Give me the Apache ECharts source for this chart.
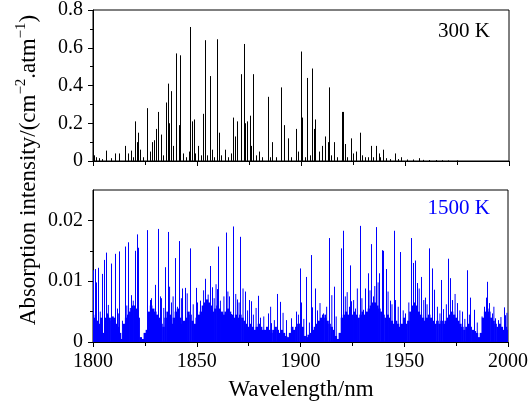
<!DOCTYPE html>
<html><head><meta charset="utf-8">
<script src="https://cdn.jsdelivr.net/npm/echarts@6/dist/echarts.min.js"></script>
<style>html,body{margin:0;padding:0;background:#fff}#c{width:531px;height:405px}</style>
</head><body><div id="c"></div>
<script>
// ---- data ----
const xTicks = [1800, 1850, 1900, 1950, 2000];
const topYTicks = [0, 0.2, 0.4, 0.6, 0.8];
const botYTicks = [0, 0.01, 0.02];
const botYMinor = [0.005, 0.015];
const topLabel = '300 K';
const botLabel = '1500 K';
const xTitle = 'Wavelength/nm';

// 300 K line positions (nm) and intensities
const lines300 = [
 [1800.9,0.03],[1801.7,0.02],[1803,0.015],[1804.6,0.01],[1806.3,0.055],[1808.7,0.015],[1810.9,0.04],
 [1812.6,0.04],[1815.7,0.08],[1817.1,0.04],[1818.6,0.055],[1819.5,0.02],[1820.5,0.21],[1821.3,0.1],
 [1822.1,0.15],[1823,0.06],[1824.3,0.02],[1826.4,0.28],[1827.5,0.05],[1828.6,0.1],[1829.5,0.11],
 [1830.3,0.17],[1831.4,0.26],[1832.7,0.14],[1834,0.03],[1835.1,0.31],[1836.2,0.41],[1836.8,0.2],
 [1837.8,0.37],[1838.6,0.08],[1840.1,0.57],[1841.5,0.19],[1842.1,0.56],[1843.5,0.04],[1845,0.02],
 [1846.2,0.05],[1847.0,0.71],[1847.7,0.21],[1848.7,0.22],[1849.5,0.04],[1850.5,0.08],[1852,0.03],
 [1853.2,0.25],[1854.2,0.64],[1855,0.03],[1856.7,0.45],[1857.5,0.06],[1858.5,0.02],[1860.0,0.645],
 [1860.7,0.15],[1862,0.03],[1863.7,0.06],[1865,0.02],[1866.5,0.04],[1867.6,0.23],[1868.3,0.13],
 [1869.7,0.21],[1871.2,0.46],[1872.9,0.62],[1873.5,0.2],[1874.2,0.21],[1875.6,0.24],[1876.3,0.08],
 [1877.1,0.46],[1878.5,0.03],[1880,0.05],[1881.5,0.02],[1884.5,0.34],[1885.3,0.02],[1886.1,0.1],
 [1888,0.02],[1890.4,0.39],[1892.2,0.19],[1893.9,0.12],[1895.5,0.02],[1897.9,0.17],[1898.8,0.05],
 [1900.0,0.58],[1900.6,0.23],[1902,0.02],[1903.0,0.44],[1904.5,0.03],[1905.4,0.49],[1906.4,0.17],
 [1907.0,0.22],[1909,0.05],[1910.5,0.08],[1911.9,0.13],[1913.4,0.1],[1913.9,0.39],[1914.7,0.03],
 [1916.3,0.1],[1917.5,0.02],[1919.9,0.26],[1920.6,0.26],[1921.2,0.09],[1922.5,0.02],[1924.2,0.12],
 [1925.2,0.04],[1926.5,0.05],[1928.7,0.15],[1929.5,0.03],[1931,0.02],[1932.5,0.02],[1934.1,0.08],
 [1935,0.02],[1936.4,0.08],[1937.5,0.04],[1938,0.02],[1939.6,0.06],[1941,0.015],[1943,0.01],
 [1945.2,0.04],[1947,0.01],[1948.5,0.02],[1951,0.008],[1954,0.008],[1957,0.015],[1959,0.006],
 [1962,0.005],[1965,0.005],[1968,0.004],[1971,0.003],[1975,0.003]
];

// 1500 K strong lines
const lines1500 = [
 [1800.3,0.0118],[1801.0,0.0120],[1801.7,0.0098],[1802.6,0.0122],[1804.6,0.0112],[1805.6,0.0135],[1806.3,0.0147],
 [1807.2,0.0047],[1808.7,0.0129],[1809.6,0.0042],[1810.9,0.0145],[1811.8,0.0055],[1812.6,0.0149],
 [1815.7,0.0157],[1817.1,0.0164],[1818.6,0.0077],[1820.5,0.0150],[1821.3,0.0177],[1822.1,0.0155],
 [1826.4,0.0184],[1827.6,0.0069],[1830.3,0.0094],[1831.4,0.0186],[1832.7,0.0075],[1835.1,0.0123],
 [1836.3,0.0181],[1837.8,0.0065],[1839.9,0.0138],[1841.5,0.0166],[1843.0,0.0088],[1844.4,0.0089],
 [1847.1,0.0154],[1849.7,0.0089],[1850.5,0.0065],[1854.2,0.0104],[1856.7,0.0125],[1857.4,0.009],
 [1860.0,0.0087],[1860.7,0.0157],[1862.3,0.0048],[1864.3,0.0180],[1865.6,0.0075],[1866.8,0.0046],
 [1867.9,0.0190],[1869.7,0.0070],[1871.3,0.0173],[1873.4,0.0083],[1875.6,0.0069],[1876.4,0.0067],
 [1879.7,0.0076],[1880.8,0.004],[1884.5,0.0047],[1886.2,0.0031],[1888.8,0.0079],[1890.2,0.0066],
 [1893.1,0.0036],[1895.8,0.0039],[1897.9,0.005],
 [1900.0,0.0121],[1900.6,0.0065],[1903.0,0.0107],[1905.4,0.0143],[1905.9,0.0057],[1907.1,0.0088],
 [1910.9,0.0047],[1911.9,0.0045],[1913.9,0.0171],[1916.3,0.0091],[1919.9,0.0154],[1920.8,0.0183],
 [1923.5,0.0058],[1924.2,0.0126],[1924.8,0.0067],[1926.7,0.0055],[1928.8,0.0191],[1930.2,0.0053],
 [1931.5,0.0088],[1932.8,0.0113],[1934.1,0.0161],[1935.1,0.0075],[1936.7,0.0189],[1938.1,0.0113],
 [1939.3,0.0151],[1940.1,0.0150],[1941.5,0.0120],[1943.3,0.0068],[1945.2,0.0183],[1946.0,0.0069],
 [1948.4,0.0148],[1950.5,0.0047],[1953.5,0.0171],[1954.5,0.0130],[1955.3,0.0134],[1956.4,0.0097],
 [1958.5,0.0107],[1960.1,0.0073],[1962.2,0.0154],[1963.8,0.0121],[1964.8,0.0086],[1968.1,0.0102],
 [1969.1,0.0054],[1971.2,0.0137],[1972.1,0.0105],[1973.4,0.0069],[1975.6,0.0064],[1978.0,0.005],
 [1980.6,0.0118],[1982.1,0.0073],[1983.7,0.0053],[1988.7,0.0058],[1989.5,0.0073],[1990.2,0.0099],
 [1991.2,0.0064],[1992.5,0.0047],[1994.1,0.0039],[1995.4,0.0036],[1998.1,0.0057],[1998.9,0.0044]
];

// 1500 K medium lines
const mid1500 = [
 [1803.5,0.005],[1807.4,0.0061],[1809.8,0.0042],[1812.2,0.0047],[1814.2,0.0035],[1816.3,0.006],[1818.0,0.0056],
 [1819.4,0.0068],[1828.2,0.0072],[1829.8,0.0047],[1833.0,0.0072],[1834.1,0.0056],[1836.9,0.0091],[1838.6,0.0075],
 [1840.7,0.0058],[1842.6,0.0072],[1845.4,0.008],[1848.3,0.0062],[1851.8,0.0068],[1853.3,0.0085],[1855.5,0.0078],
 [1858.4,0.0072],[1859.3,0.0095],[1861.4,0.0068],[1863.1,0.0075],[1865.0,0.0083],[1868.8,0.0079],[1870.4,0.0065],
 [1872.3,0.0088],[1874.5,0.0052],[1877.3,0.0045],[1878.6,0.0056],[1882.3,0.0042],[1885.6,0.0058],[1887.4,0.0036],
 [1891.6,0.0048],[1899.0,0.0045],[1901.6,0.0038],[1904.3,0.0032],[1908.2,0.0052],[1909.4,0.0064],[1912.6,0.0058],
 [1915.1,0.0077],[1917.2,0.0042],[1921.6,0.0075],[1922.5,0.0082],[1925.6,0.0069],[1927.4,0.0088],[1929.6,0.0072],
 [1933.5,0.0085],[1935.8,0.0092],[1937.4,0.0098],[1942.2,0.0083],[1944.1,0.0062],[1947.1,0.0058],[1949.5,0.0052],
 [1952.2,0.0065],[1957.2,0.0088],[1959.4,0.0069],[1961.0,0.0062],[1966.0,0.0058],[1967.2,0.0047],[1970.3,0.0062],
 [1974.5,0.0079],[1976.8,0.0052],[1979.2,0.0038],[1981.4,0.0045],[1985.2,0.0032],[1987.5,0.0042],[1993.2,0.0058],
 [1996.6,0.0041],[1999.5,0.0048]
];

// 1500 K dense weak-line background, one value per nm from 1800 to 2000
const floorStart = 1800;
const floor1500 = [
 0.0045,0.004,0.0035,0.003,0.004,0.0015,0.004,0.0045,0.004,0.0035,
 0.004,0.003,0.0025,0.0015,0.0005,0.003,0.004,0.0045,0.005,0.006,
 0.006,0.0055,0.004,0.0008,0.0005,0.0015,0.002,0.005,0.006,0.0055,
 0.005,0.0045,0.004,0.003,0.0025,0.004,0.005,0.0045,0.003,0.004,
 0.005,0.0055,0.004,0.003,0.0035,0.004,0.005,0.0045,0.0035,0.003,
 0.004,0.0045,0.005,0.006,0.0065,0.007,0.0065,0.006,0.005,0.0055,
 0.006,0.0055,0.005,0.0045,0.005,0.0055,0.005,0.0045,0.004,0.0045,
 0.004,0.0045,0.004,0.0035,0.003,0.0025,0.003,0.0025,0.002,0.0025,
 0.003,0.0025,0.002,0.002,0.0025,0.002,0.0015,0.002,0.0025,0.002,
 0.0015,0.002,0.0015,0.001,0.0008,0.0015,0.0025,0.002,0.0025,0.003,
 0.003,0.0025,0.001,0.0008,0.0012,0.0015,0.002,0.0025,0.003,0.0035,
 0.004,0.0045,0.004,0.0035,0.003,0.0025,0.002,0.001,0.0005,0.0015,
 0.004,0.0045,0.005,0.0045,0.004,0.0045,0.005,0.0045,0.004,0.0045,
 0.005,0.0045,0.005,0.0055,0.006,0.0065,0.0065,0.006,0.0055,0.005,
 0.0045,0.004,0.0045,0.004,0.0035,0.003,0.0035,0.003,0.0025,0.003,
 0.004,0.003,0.0035,0.005,0.006,0.0065,0.006,0.005,0.0045,0.004,
 0.0035,0.004,0.0045,0.004,0.0035,0.003,0.0035,0.003,0.0035,0.003,
 0.0035,0.004,0.0045,0.005,0.0045,0.004,0.0035,0.003,0.0025,0.002,
 0.0025,0.003,0.0025,0.002,0.0018,0.0015,0.0008,0.0015,0.004,0.005,
 0.0055,0.005,0.004,0.0035,0.003,0.0025,0.003,0.0025,0.002,0.0025,
 0.002
];

// ---- chart ----
const FONT = 'Liberation Serif';
const chart = echarts.init(document.getElementById('c'), null, {renderer: 'canvas'});

function stickSeries(data, xi, yi, color, w, z, snap) {
  return {
    type: 'custom', xAxisIndex: xi, yAxisIndex: yi, data: data, clip: true,
    encode: {x: 0, y: 1}, z: z,
    renderItem: function (params, api) {
      const x = api.value(0), h = api.value(1);
      const p0 = api.coord([x, 0]);
      const p1 = api.coord([x, h]);
      const px = snap ? Math.round(p0[0] - 0.5) + 0.5 : p0[0];
      return {type: 'line', shape: {x1: px, y1: p0[1], x2: px, y2: p1[1]},
              style: {stroke: color, lineWidth: w}};
    }
  };
}

const gridBase = {left: 93, width: 416, height: 152, show: true, borderColor: '#000', borderWidth: 1};
const tickStyle = {color: '#000', width: 1};
function xAxis(gi, showLabels) {
  return {
    type: 'value', gridIndex: gi, min: xTicks[0], max: xTicks[xTicks.length - 1], interval: 50,
    axisLine: {show: true, lineStyle: tickStyle},
    axisTick: {show: true, inside: false, length: 5, lineStyle: tickStyle},
    minorTick: {show: true, splitNumber: 2, length: 4, lineStyle: tickStyle},
    splitLine: {show: false}, minorSplitLine: {show: false},
    axisLabel: {show: showLabels, fontFamily: FONT, fontSize: 20, color: '#000', margin: 10,
                formatter: v => String(v)}
  };
}

chart.setOption({
  animation: false,
  backgroundColor: '#fff',
  grid: [Object.assign({top: 9}, gridBase), Object.assign({top: 190}, gridBase)],
  xAxis: [xAxis(0, false), xAxis(1, true)],
  yAxis: [
    {type: 'value', gridIndex: 0, position: 'left', min: 0, max: 0.8, interval: 0.2,
     axisLine: {show: true, lineStyle: tickStyle},
     axisTick: {show: true, inside: false, length: 5, lineStyle: tickStyle},
     minorTick: {show: true, splitNumber: 2, length: 3, lineStyle: tickStyle},
     splitLine: {show: false},
     axisLabel: {fontFamily: FONT, fontSize: 20, color: '#000', margin: 10, formatter: v => String(v)}},
    {type: 'value', gridIndex: 1, position: 'left', min: 0, max: 0.025, interval: 0.005,
     axisLine: {show: true, lineStyle: tickStyle},
     axisTick: {show: true, inside: false, length: 5, lineStyle: tickStyle, customValues: botYTicks},
     splitLine: {show: false},
     axisLabel: {fontFamily: FONT, fontSize: 20, color: '#000', margin: 10, customValues: botYTicks,
                 formatter: v => String(v)}},
    {type: 'value', gridIndex: 1, position: 'left', offset: 0, min: 0, max: 0.025, interval: 0.005,
     axisLine: {show: false},
     axisTick: {show: true, inside: false, length: 3, lineStyle: tickStyle, customValues: botYMinor},
     splitLine: {show: false}, axisLabel: {show: false}}
  ],
  series: [
    stickSeries(lines300, 0, 0, '#000', 1, 3, true),
    stickSeries(floor1500.map((v, i) => [floorStart + i, v]), 1, 1, '#0000ff', 2.6, 2, false),
    stickSeries(mid1500, 1, 1, '#0000ff', 1, 3, false),
    stickSeries(lines1500, 1, 1, '#0000ff', 1, 4, true)
  ],
  graphic: [
    {type: 'text', x: 490, y: 31, style: {text: topLabel, fontFamily: FONT, fontSize: 21, fill: '#000', align: 'right', verticalAlign: 'middle'}},
    {type: 'text', x: 490, y: 208, style: {text: botLabel, fontFamily: FONT, fontSize: 21, fill: '#0000ff', align: 'right', verticalAlign: 'middle'}},
    {type: 'text', x: 301, y: 390, style: {text: xTitle, fontFamily: FONT, fontSize: 23, fill: '#000', align: 'center', verticalAlign: 'middle'}},
    {type: 'text', x: 27, y: 170, rotation: Math.PI / 2,
     style: {text: '{a|Absorption intensity/(cm}{s|−2}{a|.atm}{s|−1}{a|)}',
             align: 'center', verticalAlign: 'middle', fill: '#000',
             rich: {a: {fontFamily: FONT, fontSize: 23, lineHeight: 26, fill: '#000', verticalAlign: 'bottom'},
                    s: {fontFamily: FONT, fontSize: 15, lineHeight: 26, fill: '#000', verticalAlign: 'top'}}}}
  ]
});
</script></body></html>
